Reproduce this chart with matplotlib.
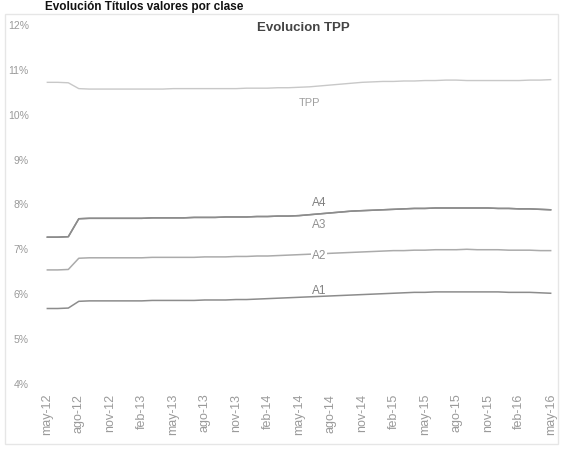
import matplotlib.pyplot as plt
import matplotlib.patches as patches

# eje de meses: may-12 .. may-16 (mensual)
meses_ticks = ['may-12', 'ago-12', 'nov-12', 'feb-13', 'may-13', 'ago-13', 'nov-13',
               'feb-14', 'may-14', 'ago-14', 'nov-14', 'feb-15', 'may-15', 'ago-15',
               'nov-15', 'feb-16', 'may-16']

tpp = [10.70, 10.70, 10.69,
       10.56, 10.55, 10.55, 10.55, 10.55, 10.55, 10.55, 10.55, 10.55, 10.56, 10.56, 10.56, 10.56,
       10.56, 10.56, 10.56, 10.57, 10.57, 10.57, 10.58, 10.58, 10.59, 10.60, 10.62, 10.64,
       10.66, 10.68, 10.70, 10.71, 10.72, 10.72, 10.73, 10.73, 10.74,
       10.74, 10.75, 10.75, 10.74, 10.74, 10.74, 10.74, 10.74, 10.74, 10.75, 10.75, 10.76]

a4 = [7.25, 7.25, 7.26,
      7.66, 7.67, 7.67, 7.67, 7.67, 7.67, 7.67, 7.68, 7.68, 7.68, 7.68, 7.69, 7.69,
      7.69, 7.70, 7.70, 7.70, 7.71, 7.71, 7.72, 7.72, 7.73, 7.75, 7.77, 7.79,
      7.81, 7.83, 7.84, 7.85, 7.86, 7.87, 7.88, 7.89, 7.89,
      7.90, 7.90, 7.90, 7.90, 7.90, 7.90, 7.89, 7.89, 7.88, 7.88, 7.87, 7.86]

a3 = list(a4)  # A3 se superpone con A4

a2 = [6.52, 6.52, 6.53,
      6.78, 6.79, 6.79, 6.79, 6.79, 6.79, 6.79, 6.80, 6.80, 6.80, 6.80, 6.80, 6.81,
      6.81, 6.81, 6.82, 6.82, 6.83, 6.83, 6.84, 6.85, 6.86, 6.87, 6.88, 6.89,
      6.90, 6.91, 6.92, 6.93, 6.94, 6.95, 6.95, 6.96, 6.96,
      6.97, 6.97, 6.97, 6.98, 6.97, 6.97, 6.97, 6.96, 6.96, 6.96, 6.95, 6.95]

a1 = [5.66, 5.66, 5.67,
      5.82, 5.83, 5.83, 5.83, 5.83, 5.83, 5.83, 5.84, 5.84, 5.84, 5.84, 5.84, 5.85,
      5.85, 5.85, 5.86, 5.86, 5.87, 5.88, 5.89, 5.90, 5.91, 5.92, 5.93, 5.94,
      5.95, 5.96, 5.97, 5.98, 5.99, 6.00, 6.01, 6.02, 6.02,
      6.03, 6.03, 6.03, 6.03, 6.03, 6.03, 6.03, 6.02, 6.02, 6.02, 6.01, 6.00]

y_ticks = [4, 5, 6, 7, 8, 9, 10, 11, 12]

plt.rcParams['font.family'] = ['Liberation Sans', 'DejaVu Sans']

fig = plt.figure(figsize=(5.65, 4.52), dpi=100)
ax = fig.add_axes([40 / 565, 1 - 384 / 452, 518 / 565, 359 / 452])

x = list(range(len(tpp)))
ax.plot(x, tpp, color='#c8c8c8', lw=1.0)
ax.plot(x, a3, color='#8c8c8c', lw=1.1)
ax.plot(x, a4, color='#8c8c8c', lw=1.1)
ax.plot(x, a2, color='#ababab', lw=1.1)
ax.plot(x, a1, color='#8c8c8c', lw=1.1)

# etiquetas de series
lab_x = 25.9
ax.text(25.0, 10.26, 'TPP', color='#a0a0a0', fontsize=8, ha='center', va='center')
ax.text(lab_x, 8.04, 'A4', color='#808080', fontsize=8.5, ha='center', va='center')
ax.text(lab_x, 7.55, 'A3', color='#909090', fontsize=8.5, ha='center', va='center')
ax.text(lab_x, 6.86, 'A2', color='#909090', fontsize=8.5, ha='center', va='center',
        bbox=dict(facecolor='white', edgecolor='none', pad=0.5))
ax.text(lab_x, 6.08, 'A1', color='#808080', fontsize=8.5, ha='center', va='center')

ax.set_xlim(-0.7, 48.7)
ax.set_ylim(4, 12)
ax.set_xticks(list(range(0, len(tpp), 3)))
ax.set_xticklabels(meses_ticks, rotation=90, fontsize=9, color='#9a9a9a')
ax.set_yticks(y_ticks)
ax.set_yticklabels([f'{v}%' for v in y_ticks], fontsize=7.5, color='#9a9a9a')
ax.tick_params(axis='x', length=0, pad=7)
ax.tick_params(axis='y', length=0, pad=8)
for s in ax.spines.values():
    s.set_visible(False)

fig.text(303 / 565, 1 - 28 / 452, 'Evolucion TPP', ha='center', va='center',
         fontsize=9.5, fontweight='bold', color='#444444')
fig.text(45 / 565, 1 - 1 / 452, 'Evolución Títulos valores por clase', ha='left', va='top',
         fontsize=8.5, fontweight='bold', color='#111111')

fig.patches.append(patches.Rectangle((5 / 565, 7 / 452), 553 / 565, 430 / 452,
                                     transform=fig.transFigure, fill=False,
                                     edgecolor='#e6e6e6', lw=1.0))

fig.savefig('out.png', dpi=100)
